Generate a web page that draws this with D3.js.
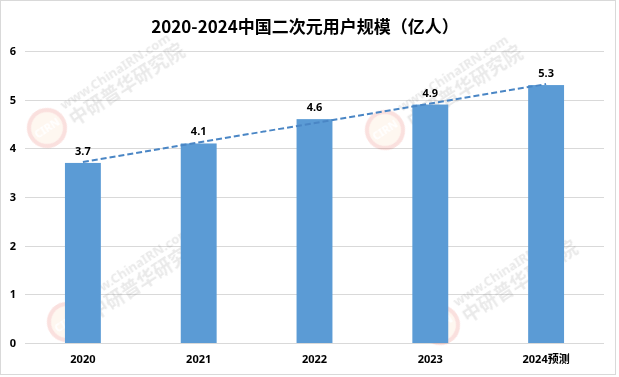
<!DOCTYPE html>
<html>
<head>
<meta charset="utf-8">
<script src="https://cdn.jsdelivr.net/npm/d3@7"></script>
<style>
  html, body { margin: 0; padding: 0; background: #fff; }
  svg { display: block; font-family: "Noto Sans", "Noto Sans CJK SC", sans-serif; }
</style>
</head>
<body>
<div id="chart"></div>
<script>
// 数据
const years = ['2020', '2021', '2022', '2023', '2024预测'];
const users = [3.7, 4.1, 4.6, 4.9, 5.3];
const yTicks = [0, 1, 2, 3, 4, 5, 6];
const title = '2020-2024中国二次元用户规模（亿人）';

const W = 619, H = 377;
const margin = { top: 51, right: 15, bottom: 34, left: 25 };

const svg = d3.select('#chart').append('svg')
    .attr('width', W)
    .attr('height', H);

// 外框
svg.append('rect')
    .attr('x', 0.5).attr('y', 0.5)
    .attr('width', W - 4).attr('height', H - 3)
    .attr('fill', '#fff')
    .attr('stroke', '#d9d9d9');

const x = d3.scaleBand()
    .domain(years)
    .range([margin.left, W - margin.right])
    .paddingInner(0.69)
    .paddingOuter(0.345);

const y = d3.scaleLinear()
    .domain([0, 6])
    .range([H - margin.bottom, margin.top]);

// 网格线
svg.append('g')
    .selectAll('line')
    .data(yTicks)
    .join('line')
    .attr('x1', margin.left)
    .attr('x2', W - margin.right)
    .attr('y1', d => Math.round(y(d)) + 0.5)
    .attr('y2', d => Math.round(y(d)) + 0.5)
    .attr('stroke', '#d9d9d9');

// 水印
const marks = [[47, 128], [67, 322], [385, 130], [440, 325]];
const wm = svg.append('g').attr('opacity', 0.16);
marks.forEach(([cx, cy]) => {
    const g = wm.append('g').attr('transform', `translate(${cx},${cy}) rotate(-33)`);
    g.append('circle').attr('r', 18).attr('fill', '#f7c9a0')
        .attr('stroke', '#e03a2c').attr('stroke-width', 4);
    g.append('text').attr('x', 0).attr('y', 4).attr('text-anchor', 'middle')
        .attr('fill', '#fff').style('font-size', '11px').style('font-weight', 'bold')
        .text('CIRN');
    g.append('text').attr('x', 24).attr('y', -6)
        .attr('fill', '#777').style('font-size', '13px').style('font-weight', 'bold')
        .text('www.ChinaIRN.com');
    g.append('text').attr('x', 24).attr('y', 14)
        .attr('fill', '#777').style('font-size', '19px').style('font-weight', 'bold')
        .style('font-family', '"Noto Sans CJK SC"')
        .text('中研普华研究院');
});

// 柱
svg.append('g')
    .selectAll('rect')
    .data(users)
    .join('rect')
    .attr('x', (d, i) => x(years[i]))
    .attr('y', d => y(d))
    .attr('width', x.bandwidth())
    .attr('height', d => y(0) - y(d))
    .attr('fill', '#5b9bd5');

// 数值标签
svg.append('g')
    .selectAll('text')
    .data(users)
    .join('text')
    .attr('x', (d, i) => x(years[i]) + x.bandwidth() / 2)
    .attr('y', d => y(d) - 8)
    .attr('text-anchor', 'middle')
    .attr('fill', '#000')
    .style('font-size', '11px')
    .style('font-weight', 'bold')
    .text(d => d.toFixed(1));

// 趋势线 (线性回归)
const n = users.length;
const mx = d3.mean(users, (d, i) => i);
const my = d3.mean(users);
const slope = d3.sum(users, (d, i) => (i - mx) * (d - my)) / d3.sum(users, (d, i) => (i - mx) ** 2);
const icpt = my - slope * mx;
const cx0 = x(years[0]) + x.bandwidth() / 2;
const cx1 = x(years[n - 1]) + x.bandwidth() / 2;
svg.append('line')
    .attr('x1', cx0).attr('y1', y(icpt))
    .attr('x2', cx1).attr('y2', y(icpt + slope * (n - 1)))
    .attr('stroke', '#4a86c5')
    .attr('stroke-width', 2)
    .attr('stroke-dasharray', '6,3');

// 坐标轴标签
svg.append('g')
    .selectAll('text')
    .data(yTicks)
    .join('text')
    .attr('x', 16)
    .attr('y', d => y(d) + 4)
    .attr('text-anchor', 'end')
    .style('font-size', '11px')
    .style('font-weight', 'bold')
    .text(d => d);

svg.append('g')
    .selectAll('text')
    .data(years)
    .join('text')
    .attr('x', d => x(d) + x.bandwidth() / 2)
    .attr('y', H - 14)
    .attr('text-anchor', 'middle')
    .style('font-size', '11px')
    .style('font-weight', 'bold')
    .text(d => d);

// 标题
svg.append('text')
    .attr('x', 305)
    .attr('y', 33)
    .attr('text-anchor', 'middle')
    .style('font-size', '17px')
    .style('font-weight', 'bold')
    .style('font-family', '"Noto Sans CJK SC", sans-serif')
    .text(title);
</script>
</body>
</html>
